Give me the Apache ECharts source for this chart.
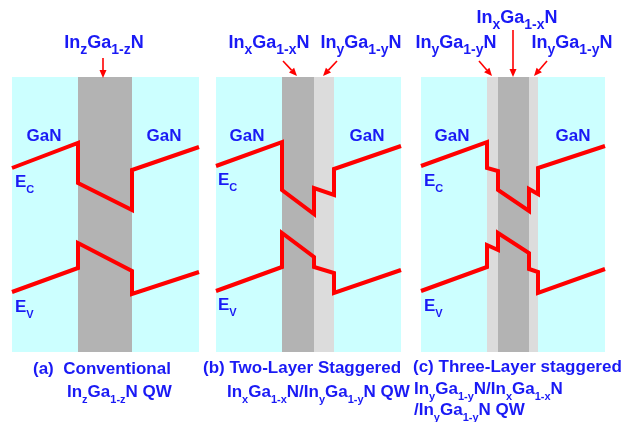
<!DOCTYPE html>
<html>
<head>
<meta charset="utf-8">
<script src="https://cdn.jsdelivr.net/npm/echarts@6/dist/echarts.min.js"></script>
<style>
  html, body { margin: 0; padding: 0; background: #fff; }
  #chart { width: 628px; height: 422px; }
</style>
</head>
<body>
<div id="chart"></div>
<script>
// Band-edge profiles across the quantum-well region (position vs. energy, arbitrary units)

// (a) conventional InzGa1-zN QW
const wellA = [66, 120];
const posA = [0, 66, 66, 120, 120, 187];
const ecA = [184, 209, 169, 142, 182, 205];
const evA = [60, 84, 109, 81, 58, 80];

// (b) two-layer staggered InxGa1-xN / InyGa1-yN QW
const layerXB = [66, 98];
const layerYB = [98, 118];
const posB = [0, 66, 66, 98, 98, 118, 118, 185];
const ecB = [186, 210, 162, 138, 164, 157, 183, 206];
const evB = [61, 85, 119, 95, 85, 79, 59, 82];

// (c) three-layer staggered InyGa1-yN / InxGa1-xN / InyGa1-yN QW
const layerY1C = [66, 77];
const layerXC = [77, 108];
const layerY2C = [108, 117];
const posC = [0, 66, 66, 77, 77, 108, 108, 117, 117, 184];
const ecC = [186, 210, 184, 181, 162, 141, 163, 158, 184, 206];
const evC = [61, 85, 107, 102, 119, 99, 83, 80, 59, 83];

const energyMax = 275;

const RED = '#ff0000';
const BLUE = '#1a1af5';
const CYAN = '#ccffff';
const DARK = '#b3b3b3';
const LIGHT = '#dcdcdc';
const FONT = '"Liberation Sans", Arial, sans-serif';

const zip = (xs, ys) => xs.map((x, i) => [x, ys[i]]);

const panels = [
  { left: 12, pos: posA, ec: ecA, ev: evA, layers: [[wellA, DARK]] },
  { left: 216, pos: posB, ec: ecB, ev: evB, layers: [[layerXB, DARK], [layerYB, LIGHT]] },
  { left: 421, pos: posC, ec: ecC, ev: evC, layers: [[layerY1C, LIGHT], [layerXC, DARK], [layerY2C, LIGHT]] }
];

const grids = [], xAxes = [], yAxes = [], series = [];
panels.forEach((p, i) => {
  const span = p.pos[p.pos.length - 1];
  grids.push({ left: p.left, top: 77, width: span, height: 275, show: true,
               backgroundColor: CYAN, borderWidth: 0 });
  xAxes.push({ type: 'value', gridIndex: i, min: 0, max: span, show: false });
  yAxes.push({ type: 'value', gridIndex: i, min: 0, max: energyMax, show: false });
  const lineStyle = { color: RED, width: 4, join: 'miter', cap: 'butt' };
  series.push({
    type: 'line', name: 'Ec', xAxisIndex: i, yAxisIndex: i, data: zip(p.pos, p.ec),
    showSymbol: false, symbol: 'none', lineStyle, z: 5, silent: true,
    markArea: {
      silent: true,
      data: p.layers.map(([r, c]) => [{ xAxis: r[0], itemStyle: { color: c } }, { xAxis: r[1] }])
    }
  });
  series.push({
    type: 'line', name: 'Ev', xAxisIndex: i, yAxisIndex: i, data: zip(p.pos, p.ev),
    showSymbol: false, symbol: 'none', lineStyle, z: 5, silent: true
  });
});

// ---- text helpers ----
function rich(main, sub) {
  return {
    m: { fontSize: main, fontWeight: 'bold', fontFamily: FONT, fill: BLUE, lineHeight: main + 10, verticalAlign: 'middle' },
    s: { fontSize: sub, fontWeight: 'bold', fontFamily: FONT, fill: BLUE, lineHeight: sub + 1, verticalAlign: 'bottom' }
  };
}
function label(x, y, text, main, sub, align) {
  return {
    type: 'text', x, y, z: 20, silent: true,
    style: { text, rich: rich(main, sub), align: align || 'center', verticalAlign: 'middle',
             fontFamily: FONT, fontWeight: 'bold', fontSize: main, fill: BLUE }
  };
}
function arrow(x1, y1, x2, y2) {
  const dx = x2 - x1, dy = y2 - y1, L = Math.hypot(dx, dy);
  const ux = dx / L, uy = dy / L, hl = 8, hw = 3.5;
  const bx = x2 - ux * hl, by = y2 - uy * hl;
  return [
    { type: 'line', z: 20, silent: true, shape: { x1, y1, x2: bx, y2: by },
      style: { stroke: RED, lineWidth: 1.6 } },
    { type: 'polygon', z: 20, silent: true,
      shape: { points: [[x2, y2], [bx - uy * hw, by + ux * hw], [bx + uy * hw, by - ux * hw]] },
      style: { fill: RED } }
  ];
}

const inz = '{m|In}{s|z}{m|Ga}{s|1-z}{m|N}';
const inx = '{m|In}{s|x}{m|Ga}{s|1-x}{m|N}';
const iny = '{m|In}{s|y}{m|Ga}{s|1-y}{m|N}';

const graphics = [
  // layer labels
  label(104, 43, inz, 18, 14),
  label(269, 43, inx, 18, 14),
  label(361, 43, iny, 18, 14),
  label(517, 18, inx, 18, 14),
  label(456, 43, iny, 18, 14),
  label(572, 43, iny, 18, 14),
  ...arrow(103, 58, 103, 78),
  ...arrow(283, 61, 297, 76),
  ...arrow(337, 61, 323, 76),
  ...arrow(513, 30, 513, 77),
  ...arrow(479, 61, 492, 76),
  ...arrow(547, 61, 534, 76),
  // GaN barriers
  label(44, 136, '{m|GaN}', 17, 11),
  label(164, 136, '{m|GaN}', 17, 11),
  label(247, 136, '{m|GaN}', 17, 11),
  label(367, 136, '{m|GaN}', 17, 11),
  label(452, 136, '{m|GaN}', 17, 11),
  label(573, 136, '{m|GaN}', 17, 11),
  // band edge names
  label(15, 182, '{m|E}{s|C}', 17, 11, 'left'),
  label(15, 307, '{m|E}{s|V}', 17, 11, 'left'),
  label(218, 180, '{m|E}{s|C}', 17, 11, 'left'),
  label(218, 305, '{m|E}{s|V}', 17, 11, 'left'),
  label(424, 181, '{m|E}{s|C}', 17, 11, 'left'),
  label(424, 306, '{m|E}{s|V}', 17, 11, 'left'),
  // captions
  label(33, 369, '{m|(a)  Conventional}', 17, 11, 'left'),
  label(67, 392, '{m|In}{s|z}{m|Ga}{s|1-z}{m|N QW}', 17, 11, 'left'),
  label(203, 368, '{m|(b) Two-Layer Staggered}', 17, 11, 'left'),
  label(227, 392, '{m|In}{s|x}{m|Ga}{s|1-x}{m|N/In}{s|y}{m|Ga}{s|1-y}{m|N QW}', 17, 11, 'left'),
  label(413, 367, '{m|(c) Three-Layer staggered}', 17, 11, 'left'),
  label(414, 389, '{m|In}{s|y}{m|Ga}{s|1-y}{m|N/In}{s|x}{m|Ga}{s|1-x}{m|N}', 17, 11, 'left'),
  label(414, 410, '{m|/In}{s|y}{m|Ga}{s|1-y}{m|N QW}', 17, 11, 'left')
];

const chart = echarts.init(document.getElementById('chart'), null, { renderer: 'canvas' });
chart.setOption({
  animation: false,
  backgroundColor: '#ffffff',
  grid: grids,
  xAxis: xAxes,
  yAxis: yAxes,
  series,
  graphic: graphics
});
</script>
</body>
</html>
